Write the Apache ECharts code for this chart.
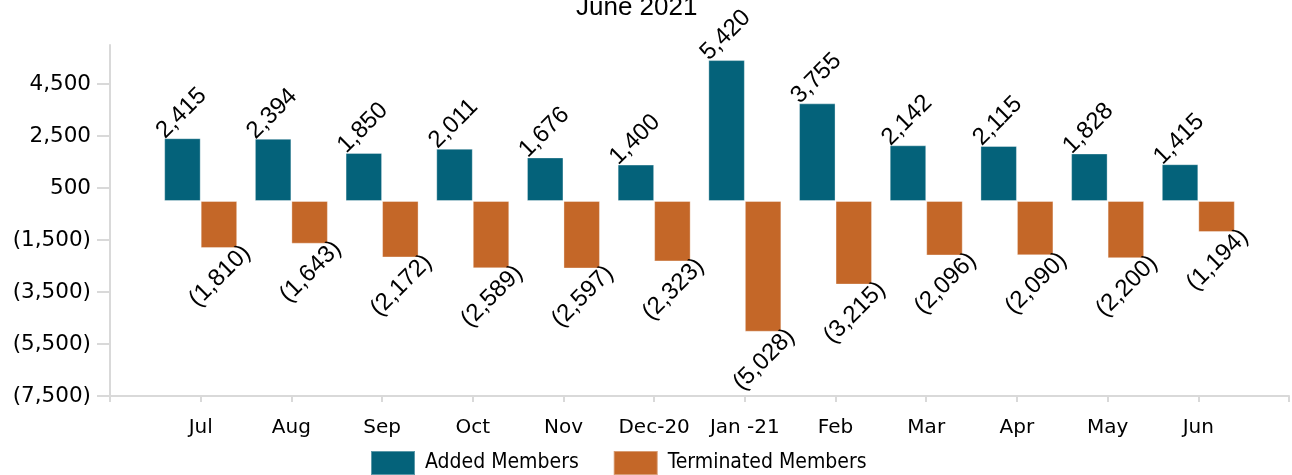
<!DOCTYPE html>
<html lang="en">
<head>
    <meta charset="UTF-8">
    <title>Members</title>
    <script src="https://cdn.jsdelivr.net/npm/echarts@6/dist/echarts.min.js"></script>
    <style>
        html, body { margin: 0; padding: 0; background: #fff; }
    </style>
</head>
<body>
<div id="main" style="width: 1292px;height:475px;"></div>
<script type="text/javascript">
    // monthly data
    var months = ['Jul', 'Aug', 'Sep', 'Oct', 'Nov', 'Dec-20', 'Jan -21', 'Feb', 'Mar', 'Apr', 'May', 'Jun'];
    var added = [2415, 2394, 1850, 2011, 1676, 1400, 5420, 3755, 2142, 2115, 1828, 1415];
    var terminated = [-1810, -1643, -2172, -2589, -2597, -2323, -5028, -3215, -2096, -2090, -2200, -1194];
    var yTicks = [-7500, -5500, -3500, -1500, 500, 2500, 4500];
    var yMin = -7500, yMax = 6000;

    var blue = '#04627a';
    var orange = '#c46728';
    var axisGrey = '#d9d9d9';

    function fmt(v) {
        var s = Math.abs(v).toLocaleString('en-US');
        return v < 0 ? '(' + s + ')' : s;
    }

    // empty slot at each end so the month ticks fall where the original has them
    var cats = [''].concat(months, ['']);
    function pad(arr) {
        return [null].concat(arr, [null]);
    }

    // label offsets are applied in the rotated (45deg) frame, so turn a screen shift into that frame
    function rotOffset(dx, dy) {
        var c = Math.SQRT1_2;
        return [dx * c - dy * c, dx * c + dy * c];
    }

    var myChart = echarts.init(document.getElementById('main'));
    var option = {
        animation: false,
        title: {
            text: 'June 2021',
            left: 576,
            top: -5,
            padding: 0,
            textStyle: {
                fontFamily: 'Liberation Sans',
                fontWeight: 'normal',
                fontSize: 26,
                color: '#000'
            }
        },
        legend: {
            left: 370,
            top: 450,
            padding: 0,
            itemWidth: 44,
            itemHeight: 24,
            itemGap: 34,
            icon: 'rect',
            textStyle: {
                fontFamily: 'DejaVu Sans Condensed',
                fontSize: 21,
                color: '#000',
                padding: [0, 0, 0, 5]
            },
            data: ['Added Members', 'Terminated Members']
        },
        grid: {
            left: 110,
            right: -5,
            top: 45,
            bottom: 79
        },
        xAxis: {
            type: 'category',
            data: cats,
            boundaryGap: false,
            axisLine: { onZero: false, lineStyle: { color: axisGrey, width: 2 } },
            axisTick: { interval: 0, length: 6, lineStyle: { color: axisGrey, width: 2 } },
            axisLabel: {
                interval: 0,
                margin: 22,
                fontFamily: 'DejaVu Sans',
                fontSize: 20,
                color: '#000'
            },
            splitLine: { show: false }
        },
        yAxis: {
            type: 'value',
            min: yMin,
            max: yMax,
            axisLine: { show: true, lineStyle: { color: axisGrey, width: 2 } },
            axisTick: {
                show: true,
                length: 13,
                customValues: yTicks,
                lineStyle: { color: axisGrey, width: 2 }
            },
            axisLabel: {
                customValues: yTicks,
                margin: 19,
                fontFamily: 'DejaVu Sans',
                fontSize: 21.5,
                color: '#000',
                formatter: fmt
            },
            splitLine: { show: false }
        },
        series: [{
            name: 'Added Members',
            type: 'bar',
            barWidth: 36.5,
            barGap: '0%',
            itemStyle: { color: blue, borderColor: 'rgba(255,255,255,0.35)', borderWidth: 1 },
            label: {
                show: true,
                position: 'top',
                distance: 0,
                rotate: 45,
                align: 'center',
                verticalAlign: 'middle',
                offset: rotOffset(-1, -25),
                fontFamily: 'Liberation Sans',
                fontSize: 24,
                color: '#000',
                formatter: function (p) { return fmt(p.value); }
            },
            data: pad(added)
        }, {
            name: 'Terminated Members',
            type: 'bar',
            barWidth: 36.5,
            barGap: '0%',
            itemStyle: { color: orange, borderColor: 'rgba(255,255,255,0.35)', borderWidth: 1 },
            label: {
                show: true,
                position: 'bottom',
                distance: 0,
                rotate: 45,
                align: 'center',
                verticalAlign: 'middle',
                offset: rotOffset(1, 28),
                fontFamily: 'Liberation Sans',
                fontSize: 24,
                color: '#000',
                formatter: function (p) { return fmt(p.value); }
            },
            data: pad(terminated)
        }]
    };
    myChart.setOption(option);
</script>
</body>
</html>
